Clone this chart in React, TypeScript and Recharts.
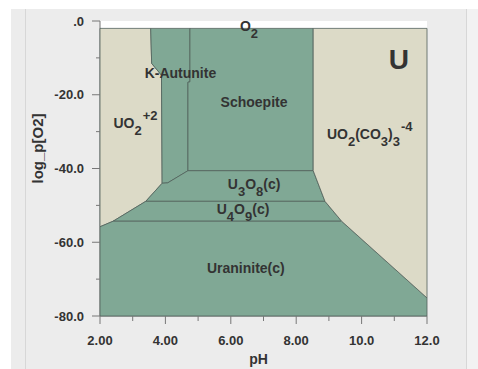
import React from "react";
import {
  ComposedChart,
  Scatter,
  XAxis,
  YAxis,
  CartesianGrid,
  ReferenceDot,
  Polygon,
} from "recharts";

// pH / log fO2 vertices of each predominance field
type Pt = [number, number];

const uo2Ion: Pt[] = [
  [2, -2], [3.55, -2], [3.58, -11.5], [3.88, -14.7], [3.9, -44.0],
  [3.4, -48.9], [2.4, -54.3], [2, -55.8],
];
const kAutunite: Pt[] = [
  [3.55, -2], [4.75, -2], [4.75, -16.5], [4.69, -16.6], [4.69, -40.6],
  [4.07, -43.9], [3.9, -44.0], [3.88, -14.7], [3.58, -11.5],
];
const schoepite: Pt[] = [
  [4.75, -2], [8.52, -2], [8.52, -40.6], [4.69, -40.6], [4.69, -16.6], [4.75, -16.5],
];
const u3o8: Pt[] = [
  [4.69, -40.6], [8.52, -40.6], [8.88, -48.9], [3.4, -48.9], [3.9, -44.0], [4.07, -43.9],
];
const u4o9: Pt[] = [
  [3.4, -48.9], [8.88, -48.9], [9.39, -54.3], [2.4, -54.3],
];
const uraninite: Pt[] = [
  [2.4, -54.3], [9.39, -54.3], [12, -75.1], [12, -80], [2, -80], [2, -55.8],
];
const carbonate: Pt[] = [
  [8.52, -2], [12, -2], [12, -75.1], [9.39, -54.3], [8.88, -48.9], [8.52, -40.6],
];

const xTicks = [2, 3, 4, 5, 6, 7, 8, 9, 10, 11, 12];
const yTicks = [0, -10, -20, -30, -40, -50, -60, -70, -80];

// label parts: s = 0 normal, 1 subscript, -1 superscript
type Part = [string, number];
const labels: { pH: number; logO2: number; parts: Part[]; anchor: string; size?: number }[] = [
  { pH: 6.28, logO2: -1.4, parts: [["O", 0], ["2", 1]], anchor: "start" },
  { pH: 4.46, logO2: -14.2, parts: [["K-Autunite", 0]], anchor: "middle" },
  { pH: 6.71, logO2: -22.0, parts: [["Schoepite", 0]], anchor: "middle" },
  { pH: 2.41, logO2: -27.6, parts: [["UO", 0], ["2", 1], ["+2", -1]], anchor: "start" },
  { pH: 11.14, logO2: -10.4, parts: [["U", 0]], anchor: "middle", size: 28 },
  {
    pH: 8.94, logO2: -30.7,
    parts: [["UO", 0], ["2", 1], ["(CO", 0], ["3", 1], [")", 0], ["3", 1], ["-4", -1]],
    anchor: "start",
  },
  { pH: 5.91, logO2: -44.2, parts: [["U", 0], ["3", 1], ["O", 0], ["8", 1], ["(c)", 0]], anchor: "start" },
  { pH: 5.57, logO2: -51.0, parts: [["U", 0], ["4", 1], ["O", 0], ["9", 1], ["(c)", 0]], anchor: "start" },
  { pH: 6.46, logO2: -66.9, parts: [["Uraninite(c)", 0]], anchor: "middle" },
];

const GREEN = "#80a895";
const BEIGE = "#dcdac7";
const EDGE = "#51615a";
const TEXT = "#333333";
const FONT = "'Liberation Sans', Arial, sans-serif";

const fields: { name: string; pts: Pt[]; color: string }[] = [
  { name: "UO2+2", pts: uo2Ion, color: BEIGE },
  { name: "K-Autunite", pts: kAutunite, color: GREEN },
  { name: "Schoepite", pts: schoepite, color: GREEN },
  { name: "U3O8(c)", pts: u3o8, color: GREEN },
  { name: "U4O9(c)", pts: u4o9, color: GREEN },
  { name: "Uraninite(c)", pts: uraninite, color: GREEN },
  { name: "UO2(CO3)3-4", pts: carbonate, color: BEIGE },
];

const XTick = ({ x, y, payload }: any) => {
  const v = payload.value;
  const major = v % 2 === 0;
  return (
    <g>
      <line x1={x} x2={x} y1={y} y2={y + (major ? 8 : 5)} stroke="#777" strokeWidth={1} />
      {major && (
        <text x={x} y={y + 28.5} textAnchor="middle" fill={TEXT} fontSize={13} fontWeight="bold" fontFamily={FONT}>
          {v < 10 ? v.toFixed(2) : v.toFixed(1)}
        </text>
      )}
    </g>
  );
};

const YTick = ({ x, y, payload }: any) => {
  const v = payload.value;
  const major = v % 20 === 0;
  return (
    <g>
      <line x1={x - (major ? 8 : 4)} x2={x} y1={y} y2={y} stroke="#777" strokeWidth={1} />
      {major && (
        <text x={x - 16} y={y + 4.6} textAnchor="end" fill={TEXT} fontSize={13} fontWeight="bold" fontFamily={FONT}>
          {v === 0 ? ".0" : v.toFixed(1)}
        </text>
      )}
    </g>
  );
};

const FieldLabel = (parts: Part[], anchor: string, size = 14) => (props: any) => {
  const vb = props.viewBox || {};
  const cx = vb.cx ?? vb.x + (vb.width || 0) / 2;
  const cy = vb.cy ?? vb.y + (vb.height || 0) / 2;
  let prev = 0;
  return (
    <text
      x={cx}
      y={cy + size * 0.36}
      textAnchor={anchor as any}
      fill={TEXT}
      fontSize={size}
      fontWeight="bold"
      fontFamily={FONT}
    >
      {parts.map(([t, s], i) => {
        const off = s === 1 ? 7 : s === -1 ? -8 : 0;
        const dy = off - prev;
        prev = off;
        return (
          <tspan key={i} dy={dy} dx={s === -1 ? 1 : 0} fontSize={s === 0 ? size : size - 1}>
            {t}
          </tspan>
        );
      })}
    </text>
  );
};

export default function App() {
  return (
    <div
      style={{
        position: "absolute",
        left: 0,
        top: 0,
        width: 478,
        height: 369,
        overflow: "hidden",
        background: "#ffffff",
      }}
    >
      <div style={{ position: "absolute", left: 11, top: 9, width: 467, height: 360, background: "#ececec" }} />
      <div style={{ position: "absolute", left: 25, top: 9, width: 1, height: 360, background: "#d7d7d7" }} />
      <div style={{ position: "absolute", left: 466, top: 9, width: 1, height: 360, background: "#d7d7d7" }} />
      <div style={{ position: "absolute", left: 467, top: 9, width: 11, height: 360, background: "#f2f2f2" }} />
      <div style={{ position: "absolute", left: 0, top: 0 }}>
        <ComposedChart width={478} height={369} margin={{ top: 21, right: 51, bottom: 0, left: 0 }}>
          <CartesianGrid fill="#ffffff" horizontal={false} vertical={false} />
          <XAxis
            type="number"
            dataKey="pH"
            domain={[2, 12]}
            ticks={xTicks}
            interval={0}
            height={53}
            tickSize={0}
            tickMargin={0}
            tickLine={false}
            tick={<XTick />}
            axisLine={{ stroke: "#777" }}
            label={{
              content: (p: any) => {
                const vb = p.viewBox;
                return (
                  <text x={vb.x + vb.width / 2 - 5} y={vb.y + 48} textAnchor="middle" fill={TEXT} fontSize={14} fontWeight="bold" fontFamily={FONT}>
                    pH
                  </text>
                );
              },
            }}
          />
          <YAxis
            type="number"
            dataKey="logO2"
            domain={[-80, 0]}
            ticks={yTicks}
            interval={0}
            width={100}
            tickSize={0}
            tickMargin={0}
            tickLine={false}
            tick={<YTick />}
            axisLine={{ stroke: "#777" }}
            label={{
              content: (p: any) => {
                const vb = p.viewBox;
                const cx = vb.x + 43;
                const cy = vb.y + vb.height / 2 - 20;
                return (
                  <text
                    x={cx}
                    y={cy}
                    transform={`rotate(-90 ${cx} ${cy})`}
                    textAnchor="middle"
                    fill={TEXT}
                    fontSize={15}
                    fontWeight="bold"
                    fontFamily={FONT}
                  >
                    log_p[O2]
                  </text>
                );
              },
            }}
          />
          {fields.map((f) => (
            <Scatter
              key={f.name}
              name={f.name}
              data={f.pts.map(([pH, logO2]) => ({ pH, logO2 }))}
              fill={f.color}
              isAnimationActive={false}
              lineType="joint"
              shape={() => <g />}
              line={(p: any) => (
                <Polygon points={p.points} fill={f.color} stroke={EDGE} strokeWidth={0.8} />
              )}
            />
          ))}
          {labels.map((l, i) => (
            <ReferenceDot
              key={i}
              x={l.pH}
              y={l.logO2}
              r={0}
              fill="none"
              stroke="none"
              ifOverflow="visible"
              label={{ content: FieldLabel(l.parts, l.anchor, l.size) }}
            />
          ))}
        </ComposedChart>
      </div>
    </div>
  );
}
